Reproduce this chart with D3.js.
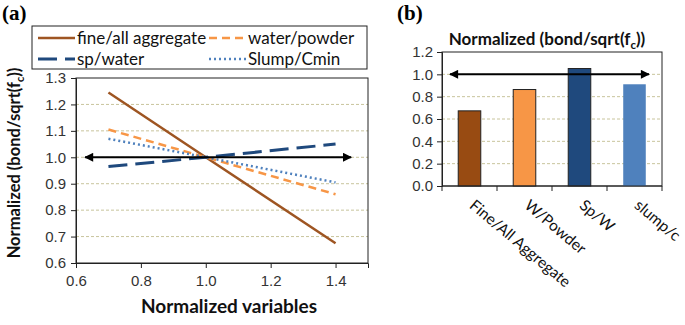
<!DOCTYPE html>
<html><head><meta charset="utf-8">
<script src="https://cdn.jsdelivr.net/npm/d3@7"></script>
<style>body{margin:0;background:#fff}svg{display:block}</style>
</head><body>
<svg id="c" width="685" height="325"></svg>
<script>
// ---- data: panel (a)
const xVars = [0.7, 1.0, 1.4];
const fineAll = [1.245, 1.0, 0.675];
const waterPowder = [1.105, 1.0, 0.86];
const spWater = [0.965, 1.0, 1.05];
const slumpCmin = [1.07, 1.0, 0.905];
const seriesNames = ["fine/all aggregate", "water/powder", "sp/water", "Slump/Cmin"];
const xTicksA = [0.6, 0.8, 1.0, 1.2, 1.4];
const yTicksA = [0.6, 0.7, 0.8, 0.9, 1.0, 1.1, 1.2, 1.3];
const arrowA = [0.628, 1.448]; // x extent of reference arrow at y = 1.0
// ---- data: panel (b)
const categories = ["Fine/All Aggregate", "W/Powder", "Sp/W", "slump/c"];
const barValues = [0.673, 0.864, 1.052, 0.911];
const yTicksB = [0.0, 0.2, 0.4, 0.6, 0.8, 1.0, 1.2];

const svg = d3.select("#c");
const LAB = "Lato, 'Open Sans', sans-serif";
const TICK = "'Liberation Sans', Arial, sans-serif";
const gridCol = "#c8c49c";

const defs = svg.append("defs");
defs.append("marker").attr("id","ah").attr("viewBox","0 0 10 10").attr("refX",9).attr("refY",5)
  .attr("markerWidth",5).attr("markerHeight",4.5).attr("orient","auto-start-reverse")
  .append("path").attr("d","M0,0L10,5L0,10z").attr("fill","#000");

// ================= Panel (a)
const xA = d3.scaleLinear().domain([0.6, 1.5]).range([76, 368]);
const yA = d3.scaleLinear().domain([0.6, 1.3]).range([263, 78]);

svg.append("text").attr("x", 2).attr("y", 20).attr("font-family","'Liberation Serif', 'DejaVu Serif', serif")
  .attr("font-weight","bold").attr("font-size", 21).text("(a)");

// gridlines
svg.append("g").selectAll("line").data(yTicksA.filter(d => d > 0.6 && d < 1.3)).join("line")
  .attr("x1", xA(0.6)).attr("x2", xA(1.5)).attr("y1", d => yA(d)).attr("y2", d => yA(d))
  .attr("stroke", gridCol).attr("stroke-width", 1).attr("stroke-dasharray","3,2");

// frame
svg.append("rect").attr("x", xA(0.6)).attr("y", yA(1.3)).attr("width", xA(1.5)-xA(0.6))
  .attr("height", yA(0.6)-yA(1.3)).attr("fill","none").attr("stroke","#222").attr("stroke-width",1);

// axes
const axA_x = d3.axisBottom(xA).tickValues(xTicksA).tickFormat(d3.format(".1f")).tickSize(5).tickPadding(4);
const gx = svg.append("g").attr("transform", `translate(0,${yA(0.6)})`).call(axA_x);
const axA_y = d3.axisLeft(yA).tickValues(yTicksA).tickFormat(d3.format(".1f")).tickSize(5).tickPadding(5);
const gy = svg.append("g").attr("transform", `translate(${xA(0.6)},0)`).call(axA_y);
[gx, gy].forEach(g => {
  g.select(".domain").attr("stroke","#222");
  g.selectAll(".tick line").attr("stroke","#222");
  g.selectAll("text").attr("font-family", TICK).attr("font-size", 15).attr("fill","#333");
});
gx.selectAll("text").attr("dy","0.9em");

// lines
const styles = [
  {vals: fineAll, color:"#9e5522", dash:null, w:2.5},
  {vals: waterPowder, color:"#f79646", dash:"8,5", w:2.5},
  {vals: spWater, color:"#1f497d", dash:"19,8", w:3},
  {vals: slumpCmin, color:"#4f81bd", dash:"2,3", w:2.5}
];
const lineGen = d3.line().x(d => xA(d[0])).y(d => yA(d[1]));
styles.forEach(s => {
  svg.append("path").datum(xVars.map((x,i) => [x, s.vals[i]]))
    .attr("d", lineGen).attr("fill","none").attr("stroke", s.color)
    .attr("stroke-width", s.w).attr("stroke-dasharray", s.dash);
});

// arrow
svg.append("line").attr("x1", xA(arrowA[0])).attr("x2", xA(arrowA[1]))
  .attr("y1", yA(1.0)).attr("y2", yA(1.0)).attr("stroke","#000").attr("stroke-width",2)
  .attr("marker-start","url(#ah)").attr("marker-end","url(#ah)");

// legend
svg.append("rect").attr("x", 32).attr("y", 26).attr("width", 335).attr("height", 43)
  .attr("fill","#fff").attr("stroke","#222").attr("stroke-width",1);
const legPos = [[38,38],[209,38],[38,59],[209,59]];
[0,1,2,3].forEach((si, k) => {
  const [lx, ly] = legPos[k];
  const s = styles[si];
  svg.append("line").attr("x1", lx).attr("x2", lx + 37).attr("y1", ly).attr("y2", ly)
    .attr("stroke", s.color).attr("stroke-width", s.w).attr("stroke-dasharray", s.dash);
  svg.append("text").attr("x", k % 2 ? lx + 39 : lx + 39).attr("y", ly).attr("dy","0.35em")
    .attr("font-family", LAB).attr("font-size", 17).attr("fill","#111").text(seriesNames[si]);
});

// axis titles
svg.append("text").attr("x", 229).attr("y", 313).attr("text-anchor","middle")
  .attr("font-family", LAB).attr("font-weight","bold").attr("font-size", 19).attr("fill","#111")
  .text("Normalized variables");
const yl = svg.append("text").attr("transform","translate(20,163) rotate(-90)").attr("text-anchor","middle")
  .attr("font-family", LAB).attr("font-weight","bold").attr("font-size", 16.5).attr("fill","#111");
yl.append("tspan").text("Normalized (bond/sqrt(f");
yl.append("tspan").attr("font-size", 11).attr("dy", 4).text("c");
yl.append("tspan").attr("dy", -4).text("))");

// ================= Panel (b)
const xB = d3.scaleBand().domain(categories).range([442, 662]).padding(0);
const yB = d3.scaleLinear().domain([0, 1.2]).range([186, 52]);

svg.append("text").attr("x", 397).attr("y", 20).attr("font-family","'Liberation Serif', 'DejaVu Serif', serif")
  .attr("font-weight","bold").attr("font-size", 21).text("(b)");

svg.append("g").selectAll("line").data(yTicksB.filter(d => d > 0 && d < 1.2)).join("line")
  .attr("x1", 442).attr("x2", 662).attr("y1", d => yB(d)).attr("y2", d => yB(d))
  .attr("stroke", gridCol).attr("stroke-width", 1).attr("stroke-dasharray","3,2");

svg.append("rect").attr("x", 442).attr("y", yB(1.2)).attr("width", 220).attr("height", yB(0)-yB(1.2))
  .attr("fill","none").attr("stroke","#222").attr("stroke-width",1);

const barCols = ["#984b12", "#f79646", "#1f497d", "#4f81bd"];
const barStroke = ["#222", "#222", "#222", "none"];
const bw = xB.bandwidth() * 0.41;
svg.append("g").selectAll("rect").data(categories).join("rect")
  .attr("x", d => xB(d) + xB.bandwidth()/2 - bw/2).attr("width", bw)
  .attr("y", (d,i) => yB(barValues[i])).attr("height", (d,i) => yB(0) - yB(barValues[i]))
  .attr("fill", (d,i) => barCols[i]).attr("stroke", (d,i) => barStroke[i]).attr("stroke-width", 1);

const gyB = svg.append("g").attr("transform","translate(442,0)")
  .call(d3.axisLeft(yB).tickValues(yTicksB).tickFormat(d3.format(".1f")).tickSize(5).tickPadding(4));
gyB.select(".domain").attr("stroke","#222");
gyB.selectAll(".tick line").attr("stroke","#222");
gyB.selectAll("text").attr("font-family", TICK).attr("font-size", 15).attr("fill","#333");

// x axis ticks at band boundaries
const bounds = categories.map(c => xB(c)).concat([xB(categories[categories.length-1]) + xB.bandwidth()]);
svg.append("line").attr("x1",442).attr("x2",662).attr("y1",yB(0)).attr("y2",yB(0)).attr("stroke","#222");
svg.append("g").selectAll("line").data(bounds).join("line")
  .attr("x1", d => d).attr("x2", d => d).attr("y1", yB(0)).attr("y2", yB(0) + 5).attr("stroke","#222");
svg.append("g").selectAll("text").data(categories).join("text")
  .attr("transform", d => `translate(${xB(d) + xB.bandwidth()/2 - 1},${yB(0) + 21}) rotate(40)`)
  .attr("font-family", LAB).attr("font-size", 15.5).attr("fill","#111").text(d => d);

// arrow (b)
svg.append("line").attr("x1", 450).attr("x2", 649).attr("y1", yB(1.0)).attr("y2", yB(1.0))
  .attr("stroke","#000").attr("stroke-width",2)
  .attr("marker-start","url(#ah)").attr("marker-end","url(#ah)");

// title (b)
const tb = svg.append("text").attr("x", 547).attr("y", 45).attr("text-anchor","middle")
  .attr("font-family", LAB).attr("font-weight","bold").attr("font-size", 17).attr("fill","#111");
tb.append("tspan").text("Normalized (bond/sqrt(f");
tb.append("tspan").attr("font-size", 11.5).attr("dy", 4).text("c");
tb.append("tspan").attr("dy", -4).text("))");
</script>
</body></html>
